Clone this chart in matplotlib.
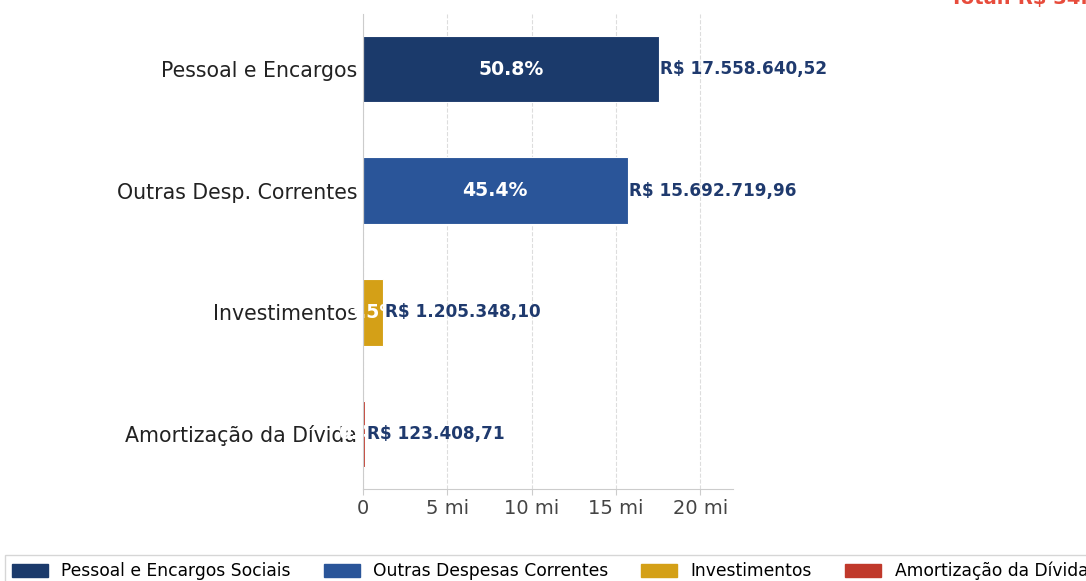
import matplotlib.pyplot as plt
import matplotlib.patches as mpatches
from matplotlib.ticker import FuncFormatter

categorias = ['Pessoal e Encargos', 'Outras Desp. Correntes', 'Investimentos', 'Amortização da Dívida']
legenda = ['Pessoal e Encargos Sociais', 'Outras Despesas Correntes', 'Investimentos', 'Amortização da Dívida']
valores = [17558640.52, 15692719.96, 1205348.10, 123408.71]
rotulos = ['R$ 17.558.640,52', 'R$ 15.692.719,96', 'R$ 1.205.348,10', 'R$ 123.408,71']
cores = ['#1b3a6b', '#2a5599', '#d4a017', '#c0392b']

total = sum(valores)
pct = [v / total * 100 for v in valores]

fig = plt.figure(figsize=(10.86, 5.81), dpi=100)
ax = fig.add_axes([363/1086, 1 - 489/581, 370/1086, 475/581])

ypos = list(range(len(categorias)))
ax.barh(ypos, valores, height=0.55, color=cores, edgecolor='white', linewidth=0.8, zorder=3)
ax.invert_yaxis()
ax.set_xlim(0, max(valores) * 1.25)
ax.set_yticks(ypos)
ax.set_yticklabels(categorias, fontsize=14.8, color='#222222')
ax.set_xticks([0, 5e6, 10e6, 15e6, 20e6])
ax.xaxis.set_major_formatter(FuncFormatter(lambda x, p: '0' if x == 0 else '%d mi' % (x / 1e6)))
ax.tick_params(axis='x', labelsize=14, colors='#444444', length=4, color='#cccccc')
ax.tick_params(axis='y', length=0, pad=4)
ax.grid(axis='x', linestyle='--', color='#dddddd', linewidth=0.8, zorder=0)
for s in ['top', 'right']:
    ax.spines[s].set_visible(False)
for s in ['left', 'bottom']:
    ax.spines[s].set_color('#cccccc')
    ax.spines[s].set_zorder(5)

for i, v in enumerate(valores):
    ax.text(v / 2, i, '%.1f%%' % pct[i], ha='center', va='center', color='white',
            fontsize=13.6, fontweight='bold', zorder=4)
    ax.text(v + max(valores) * 0.005, i, rotulos[i], ha='left', va='center', color='#1f3a6e',
            fontsize=12.2, fontweight='bold', zorder=4)

# titulo cortado no topo da imagem original
fig.text(950/1086, 1 - 4/581, 'Total: R$ 34.580.117,29', color='#e74c3c', fontsize=14,
         fontweight='bold', ha='left', va='baseline')

handles = [mpatches.Patch(color=c, label=l) for c, l in zip(cores, legenda)]
fig.legend(handles=handles, loc='upper left', bbox_to_anchor=(5/1086, 1 - 555/581), ncol=4,
           fontsize=12.3, frameon=True, fancybox=False, edgecolor='#cccccc',
           handlelength=2.1, handleheight=0.8, columnspacing=1.92, borderaxespad=0)

fig.savefig('out.png', dpi=100)
